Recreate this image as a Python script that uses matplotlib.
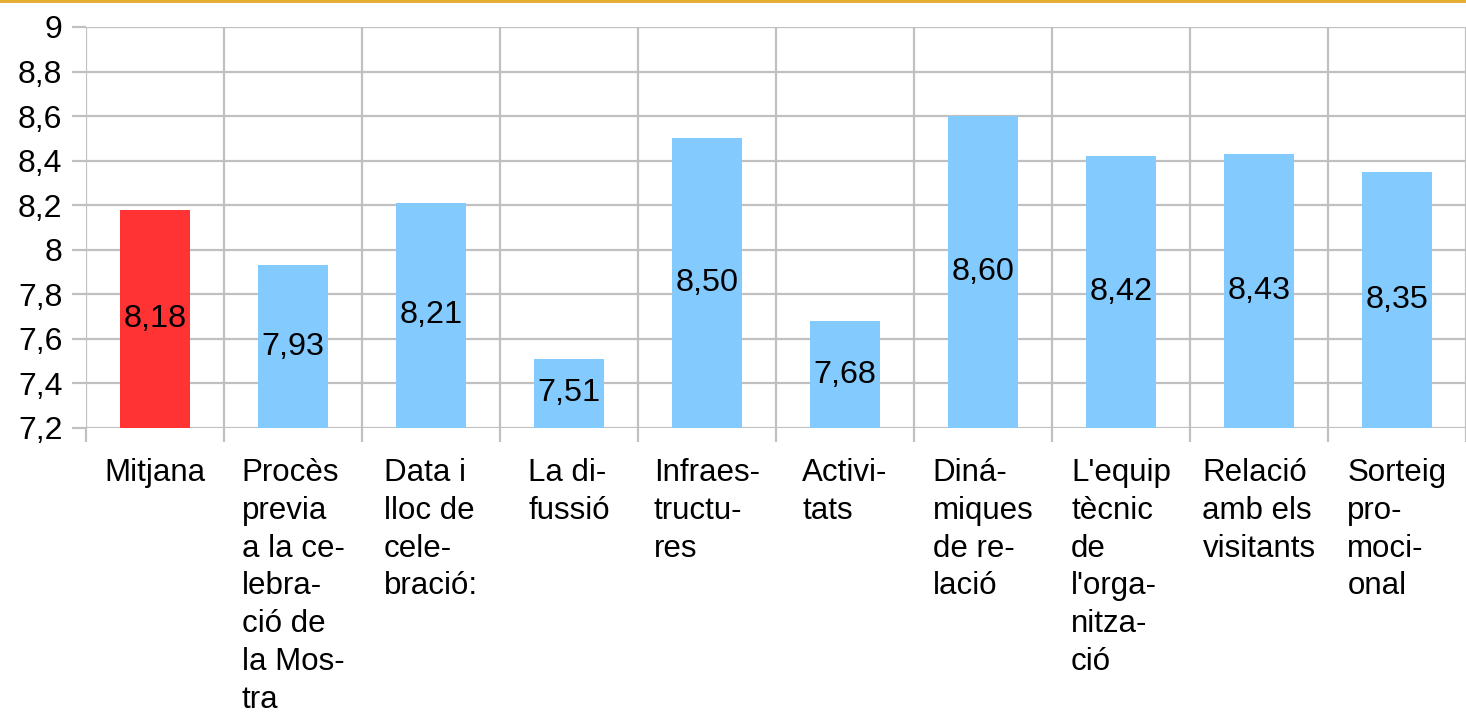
import matplotlib
matplotlib.use("Agg")
import matplotlib.pyplot as plt
import numpy as np
from matplotlib.patches import Rectangle

categories = [
    "Mitjana",
    "Procès\nprevia\na la ce-\nlebra-\nció de\nla Mos-\ntra",
    "Data i\nlloc de\ncele-\nbració:",
    "La di-\nfussió",
    "Infraes-\ntructu-\nres",
    "Activi-\ntats",
    "Diná-\nmiques\nde re-\nlació",
    "L'equip\ntècnic\nde\nl'orga-\nnitza-\nció",
    "Relació\namb els\nvisitants",
    "Sorteig\npro-\nmoci-\nonal",
]
values = [8.18, 7.93, 8.21, 7.51, 8.50, 7.68, 8.60, 8.42, 8.43, 8.35]
bar_colors = ["#FF3333"] + ["#83CAFF"] * 9
yticks = [7.2, 7.4, 7.6, 7.8, 8.0, 8.2, 8.4, 8.6, 8.8, 9.0]

plt.rcParams['font.family'] = ['Liberation Sans', 'DejaVu Sans']

W, H = 1466, 712
fig = plt.figure(figsize=(W / 100, H / 100), dpi=100)
ax = fig.add_axes([86 / W, 1 - 428 / H, (1466 - 86) / W, (428 - 27) / H])

base = 7.2
x = np.arange(len(values))
ax.bar(x, np.array(values) - base, bottom=base, width=0.51, color=bar_colors, zorder=3)
for xi, v in zip(x, values):
    ax.text(xi, (base + v) / 2, f"{v:.2f}".replace(".", ","), ha="center", va="center",
            fontsize=23.3, color="black", zorder=4)

ax.set_xlim(-0.5, len(values) - 0.5)
ax.set_ylim(7.2, 9.0)

grid_c = "#C0C0C0"
ax.set_yticks(yticks)
ax.set_yticklabels([("%g" % t).replace(".", ",") for t in yticks], fontsize=23)
ax.tick_params(axis="y", length=10, width=1.6, color=grid_c, pad=7)
ax.grid(axis="y", color=grid_c, linewidth=1.6, zorder=0)

ax.set_xticks(x)
ax.set_xticklabels(categories, fontsize=22.5, linespacing=1.34, va="top")
for lab in ax.get_xticklabels():
    lab.set_multialignment("left")
ax.tick_params(axis="x", which="major", length=0, pad=21.5)
ax.set_xticks(np.arange(-0.5, len(values), 1.0), minor=True)
ax.tick_params(axis="x", which="minor", length=10, width=1.6, color=grid_c)
ax.grid(axis="x", which="minor", color=grid_c, linewidth=1.6, zorder=0)
ax.grid(axis="x", which="major", visible=False)

for s in ax.spines.values():
    s.set_visible(False)

fig.add_artist(Rectangle((0, 1 - 3 / H), 1, 3 / H, transform=fig.transFigure,
                         color="#E6AE35", lw=0))

fig.savefig("out.png", dpi=100)
